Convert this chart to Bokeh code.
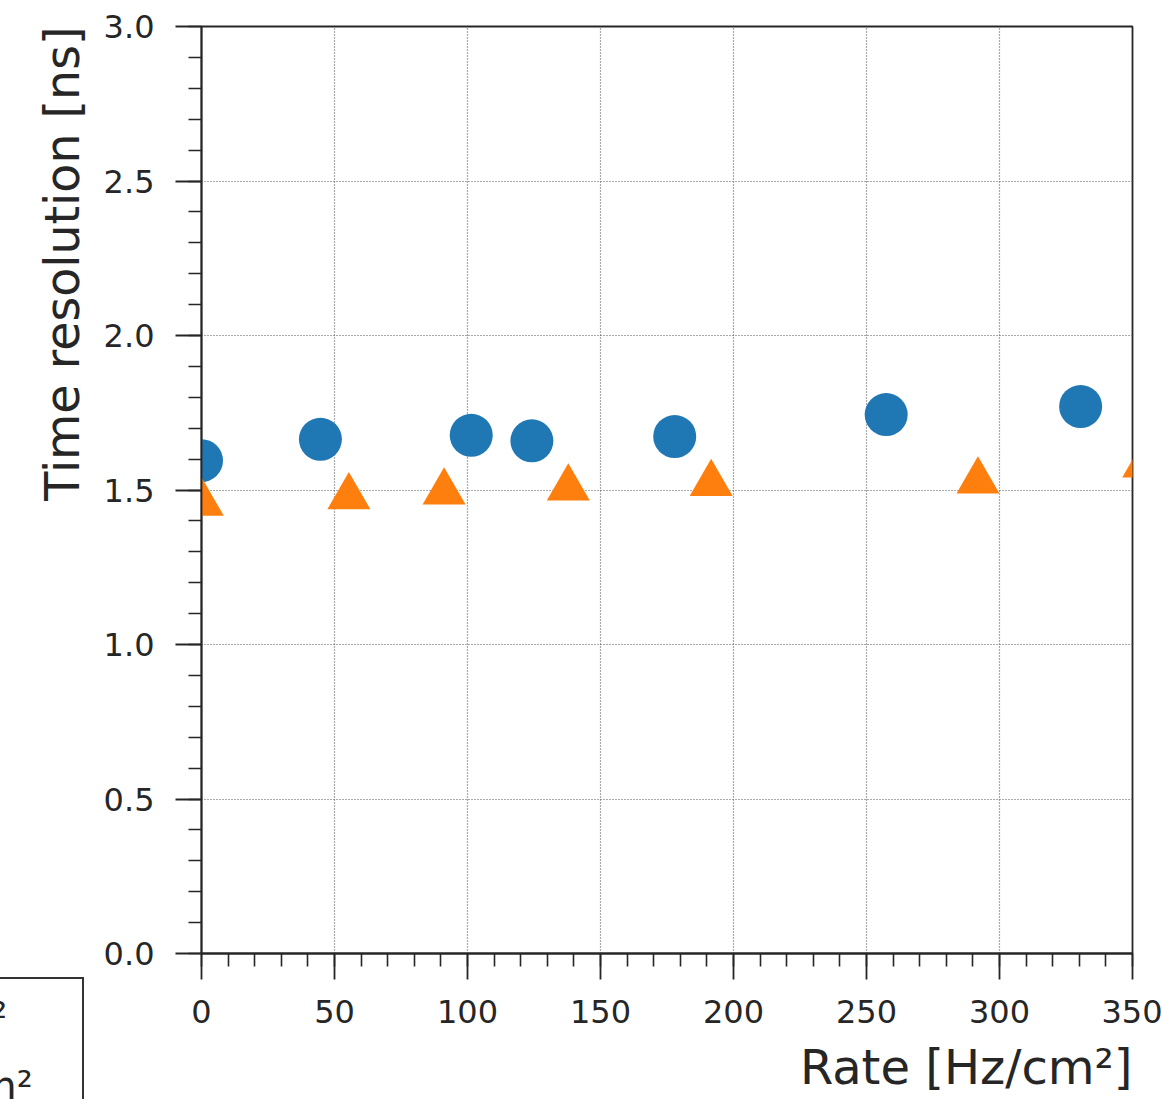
from bokeh.plotting import figure
from bokeh.layouts import column
from bokeh.models import Range1d, SingleIntervalTicker, NumeralTickFormatter, Legend, LegendItem, Title
from bokeh.embed import file_html
from bokeh.resources import INLINE

# ---- data ----
rate_a = [0.0, 44.7, 101.4, 124.2, 177.9, 257.4, 330.5]
res_a = [1.595, 1.664, 1.677, 1.659, 1.673, 1.744, 1.770]
rate_b = [0.3, 55.4, 91.2, 137.9, 191.6, 291.9, 354.2]
res_b = [1.477, 1.498, 1.513, 1.526, 1.541, 1.549, 1.601]
label_a = "Detector A, 0 – 350 Hz/cm²"
label_b = "Detector B, 10 – 350 Hz/cm²"
x_label = "Rate [Hz/cm²]"
y_label = "Time resolution [ns]"

FONT = "DejaVu Sans"
DARK = "#262626"
BLUE = "#1f77b4"
ORANGE = "#ff7f0e"

p = figure(frame_width=931, frame_height=927,
           x_range=Range1d(0, 350), y_range=Range1d(0, 3),
           output_backend="svg", toolbar_location=None,
           min_border_left=201, min_border_right=30,
           min_border_top=26, min_border_bottom=146)
p.background_fill_color = "white"
p.border_fill_color = "white"
p.outline_line_color = DARK
p.outline_line_width = 1.8
p.outline_line_alpha = 1.0

try:
    from bokeh.models import GlobalInlineStyleSheet
    p.stylesheets = [GlobalInlineStyleSheet(css="html, body { overflow: hidden; margin: 0; }")]
except Exception:
    pass

tri_size = 43
d = (tri_size * 0.866 / 6.0) / 927 * 3.0
p.extra_y_ranges = {"tri": Range1d(start=d, end=3 + d)}

p.xaxis.ticker = SingleIntervalTicker(interval=50, num_minor_ticks=5)
p.yaxis.ticker = SingleIntervalTicker(interval=0.5, num_minor_ticks=5)
p.xaxis.formatter = NumeralTickFormatter(format="0")
p.yaxis.formatter = NumeralTickFormatter(format="0.0")

for ax in (p.xaxis[0], p.yaxis[0]):
    ax.axis_line_color = DARK
    ax.axis_line_width = 1.8
    ax.major_tick_line_color = DARK
    ax.major_tick_line_width = 1.8
    ax.minor_tick_line_color = DARK
    ax.minor_tick_line_width = 1.6
    ax.major_tick_out = 26
    ax.major_tick_in = 0
    ax.minor_tick_out = 13
    ax.minor_tick_in = 0
    ax.major_label_text_font = FONT
    ax.major_label_text_font_size = "32px"
    ax.major_label_text_color = DARK

p.xaxis.major_label_standoff = 20
p.yaxis.major_label_standoff = 21

xt = Title(text=x_label, align="right", text_font=FONT, text_font_size="48px",
           text_font_style="normal", text_color=DARK, standoff=23, offset=0)
yt = Title(text=y_label, align="right", text_font=FONT, text_font_size="47.5px",
           text_font_style="normal", text_color=DARK, standoff=21, offset=0)
p.add_layout(xt, "below")
p.add_layout(yt, "left")

for g in (p.xgrid[0], p.ygrid[0]):
    g.grid_line_color = "#555555"
    g.grid_line_width = 1.2
    g.grid_line_dash = "1 2"
    g.grid_line_alpha = 1.0

p.scatter(rate_a, res_a, marker="circle", size=43, fill_color=BLUE, line_color=None)
p.scatter(rate_b, res_b, marker="triangle", size=tri_size, fill_color=ORANGE,
          line_color=None, y_range_name="tri")

# ---- legend: a transparent companion plot overlaid at the lower left (mostly off-page) ----
LEG_W, LEG_H = 800, 400
leg = figure(width=LEG_W, height=LEG_H, min_border=0, x_axis_location=None, y_axis_location=None,
             toolbar_location=None, output_backend="svg",
             x_range=Range1d(1000, 1001), y_range=Range1d(1000, 1001))
leg.outline_line_color = None
leg.xgrid.visible = False
leg.ygrid.visible = False
leg.background_fill_color = None
leg.border_fill_color = None
la = leg.scatter(rate_a, res_a, marker="circle", size=30, fill_color=BLUE, line_color=None)
lb = leg.scatter(rate_b, res_b, marker="triangle", size=30, fill_color=ORANGE, line_color=None)
legend = Legend(items=[LegendItem(label=label_a, renderers=[la]),
                       LegendItem(label=label_b, renderers=[lb])],
                location="top_right")
legend.label_text_font = FONT
legend.label_text_font_size = "40px"
legend.label_text_color = DARK
legend.label_width = 602
legend.label_height = 48
legend.glyph_width = 40
legend.glyph_height = 48
legend.label_standoff = 10
legend.spacing = 21
legend.padding = 14
legend.margin = 118
legend.border_line_color = "#333333"
legend.border_line_width = 2
legend.border_line_alpha = 1.0
legend.background_fill_color = "white"
legend.background_fill_alpha = 1.0
leg.add_layout(legend, "center")
leg.styles = {"position": "absolute", "left": "-568px", "top": "859px", "z-index": "5"}

layout = column(p, leg, spacing=0)
open("out.html", "w").write(file_html(layout, INLINE))
